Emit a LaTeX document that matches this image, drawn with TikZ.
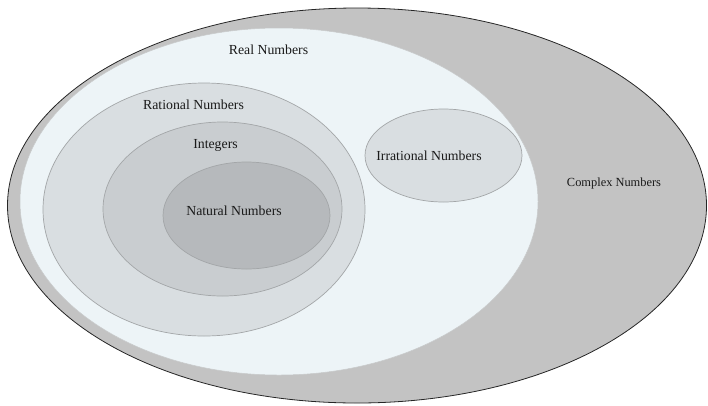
\documentclass[tikz,border=0pt]{standalone}
\usepackage{fontspec}
\setmainfont{Liberation Serif}
\definecolor{cOuter}{HTML}{C3C3C3}
\definecolor{cReal}{HTML}{EDF4F7}
\definecolor{cRat}{HTML}{D9DEE1}
\definecolor{cInt}{HTML}{C9CDD0}
\definecolor{cNat}{HTML}{B6B9BC}
\definecolor{cEdge}{HTML}{A3A6A8}
\definecolor{cText}{HTML}{1A1A1A}
\tikzset{
  setedge/.style={draw=cEdge, line width=0.7pt},
  lbl/.style={text=cText, font=\fontsize{13.8}{16}\selectfont, inner sep=0pt},
}
\begin{document}
\begin{tikzpicture}[x=1pt,y=-1pt]
\useasboundingbox (0,0) rectangle (708,405);
% Complex numbers
\draw[fill=cOuter, draw=black!85, line width=0.8pt] (357,205.5) ellipse [x radius=349.5, y radius=197.5];
% Real numbers
\draw[fill=cReal, draw=cEdge!60, line width=0.5pt] (279,201.5) ellipse [x radius=259, y radius=173.5];
% Rational
\draw[setedge, fill=cRat] (204,209.5) ellipse [x radius=161, y radius=126.5];
% Integers
\draw[setedge, fill=cInt] (222.5,209) ellipse [x radius=119.5, y radius=87];
% Natural
\draw[setedge, fill=cNat] (246.5,215.5) ellipse [x radius=83.5, y radius=53.5];
% Irrational
\draw[setedge, fill=cRat] (443.5,155.5) ellipse [x radius=78.5, y radius=46.5];
% Labels
\node[lbl] (real) at (268.5,50) {Real Numbers};
\node[lbl] (rat) at (193.5,104.5) {Rational Numbers};
\node[lbl] (int) at (215.5,145) {Integers};
\node[lbl] (nat) at (234,210.5) {Natural Numbers};
\node[lbl] (irr) at (429,155.5) {Irrational Numbers};
\node[lbl, font=\fontsize{12.4}{14}\selectfont] (cpx) at (614,183.5) {Complex Numbers};
\end{tikzpicture}
\end{document}
